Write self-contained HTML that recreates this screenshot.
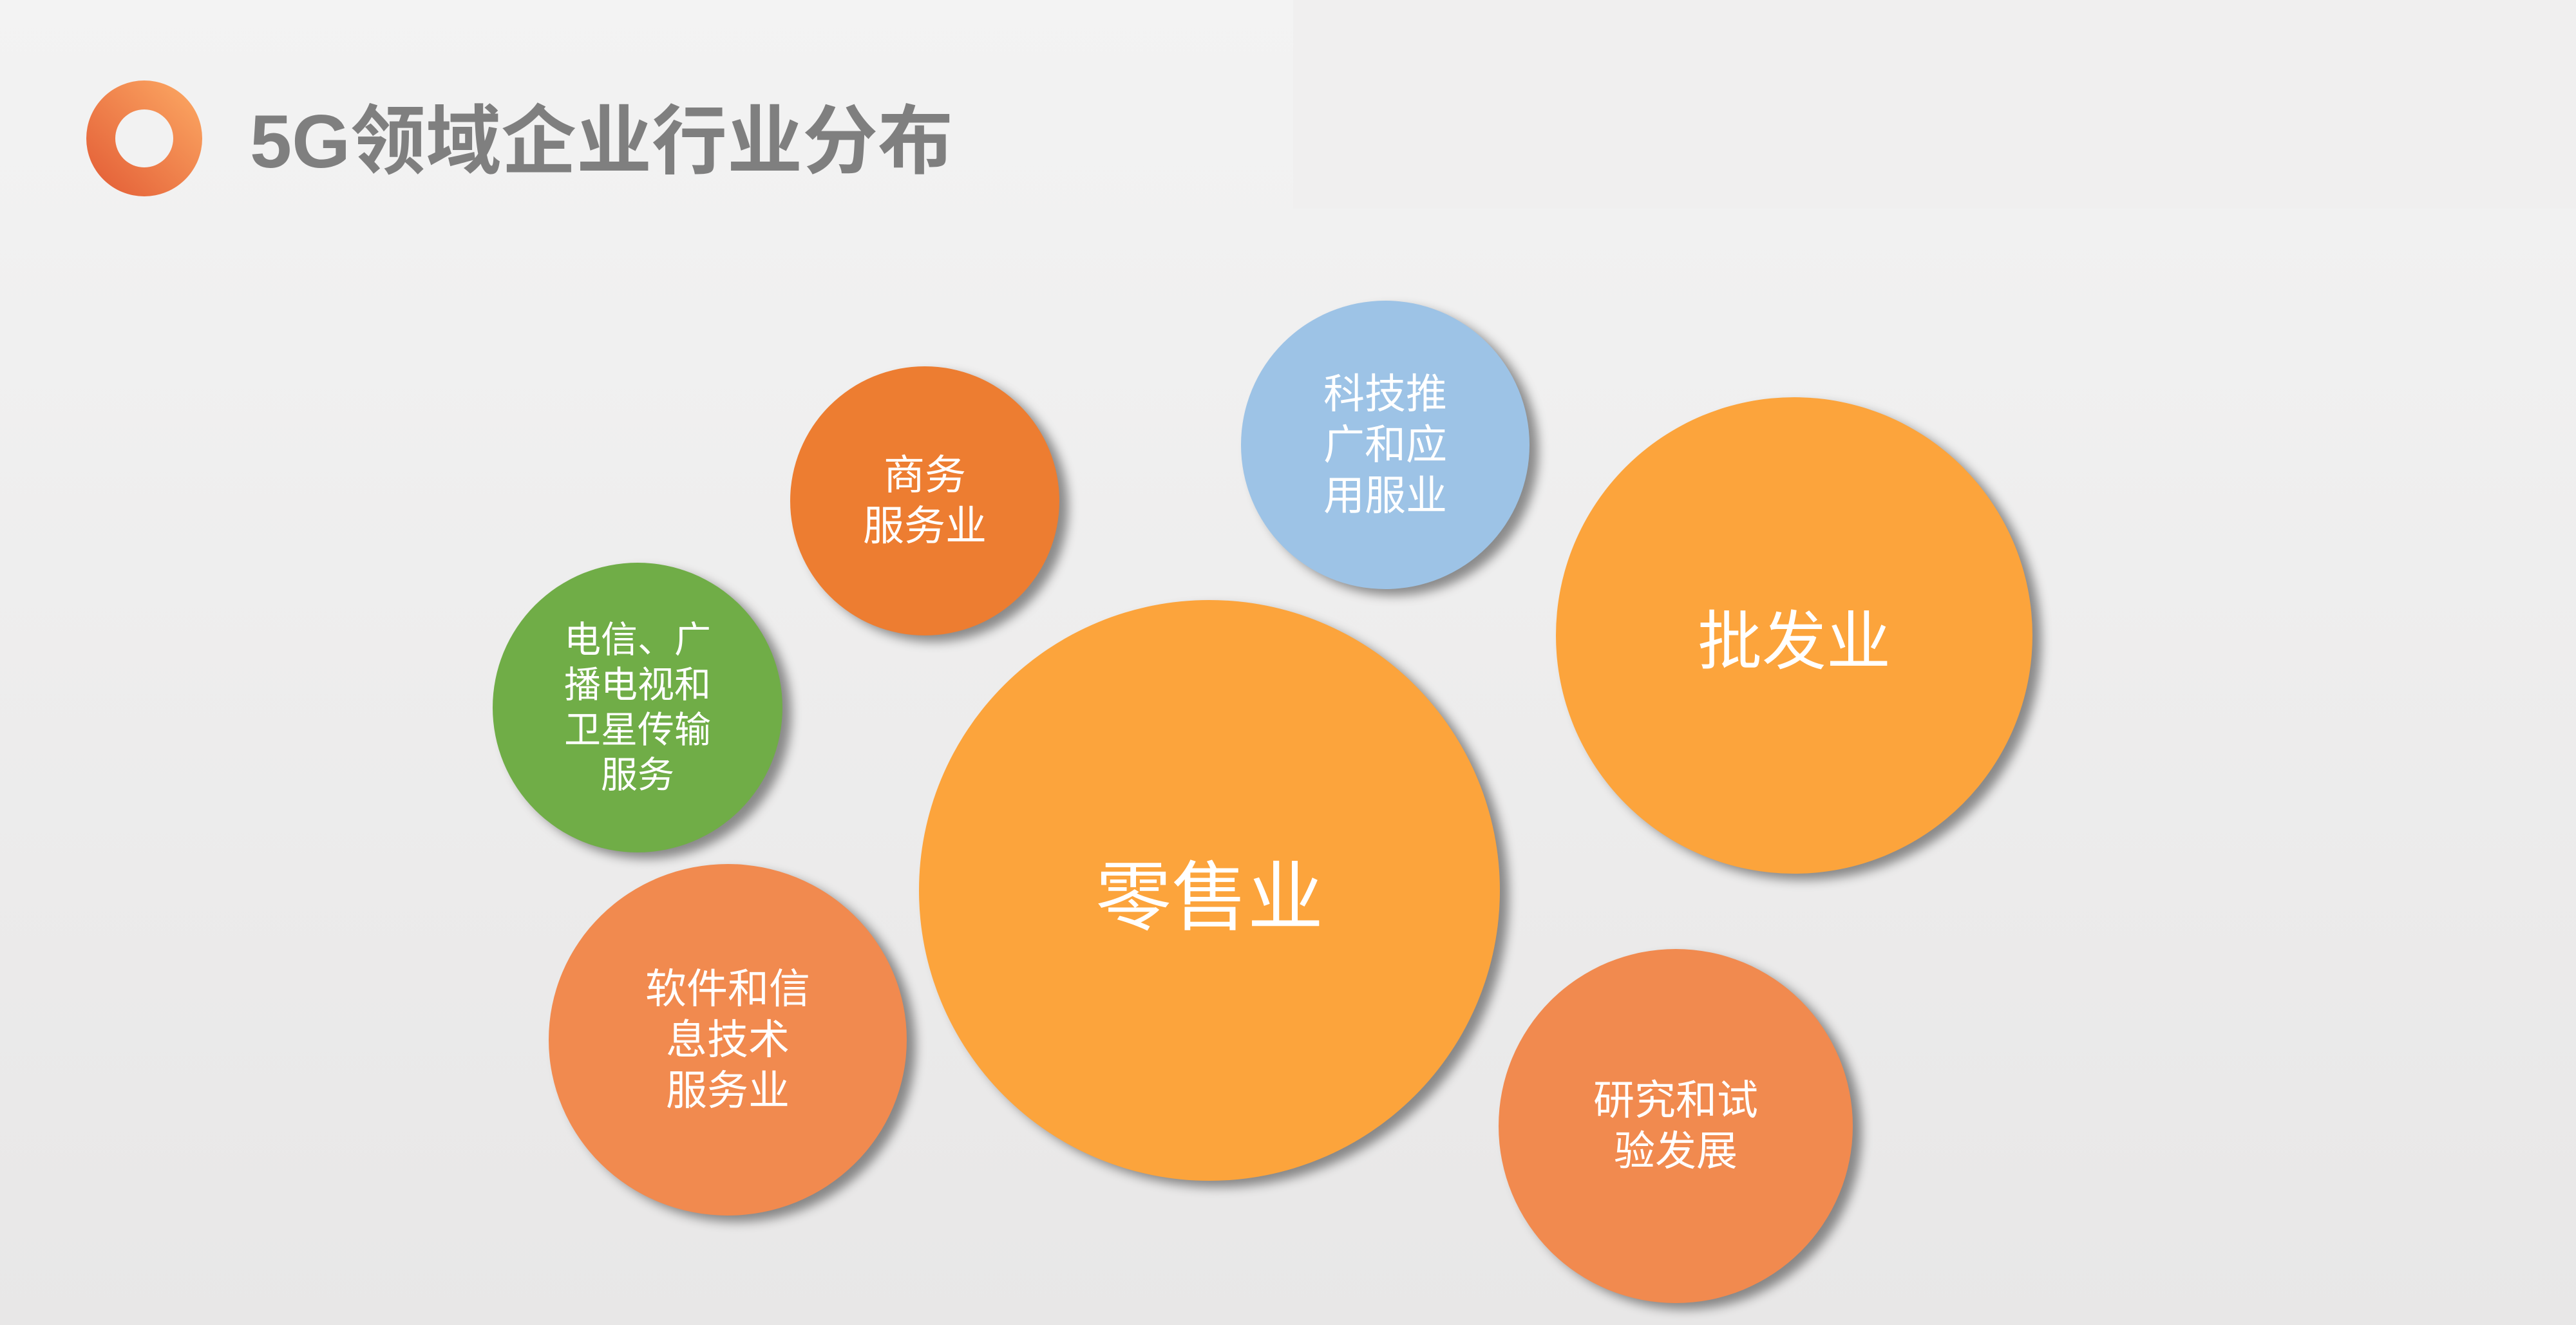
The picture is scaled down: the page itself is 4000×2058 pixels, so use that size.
<!DOCTYPE html>
<html><head><meta charset="utf-8"><style>
html,body{margin:0;padding:0}
body{width:4000px;height:2058px;position:relative;overflow:hidden;background:linear-gradient(#f3f3f3,#e8e7e7);font-family:"Liberation Sans","Noto Sans CJK SC",sans-serif}
.tr{position:absolute;left:2008px;top:0;width:1992px;height:324px;background:#f0efef}
.c{position:absolute;border-radius:50%;display:flex;align-items:center;justify-content:center;text-align:center;color:#fff;box-shadow:14px 10px 16px rgba(0,0,0,.42)}
.logo{position:absolute;left:134px;top:125px;width:180px;height:180px;border-radius:50%;background:linear-gradient(45deg,#e25a34,#fdab65)}
.logo:after{content:"";position:absolute;left:45px;top:45px;width:90px;height:90px;border-radius:50%;background:#f2f2f2}
.title{position:absolute;left:388px;top:150px;font-size:117px;font-weight:bold;color:#7f7f7f;line-height:140px;white-space:nowrap}
</style></head><body>
<div class="tr"></div>
<div class="logo"></div>
<div class="title">5G领域企业行业分布</div>

<div class="c" style="left:1227px;top:569px;width:418px;height:418px;background:#ed7d31;font-size:64px;line-height:79px">商务<br>服务业</div>
<div class="c" style="left:1927px;top:467px;width:448px;height:448px;background:#9dc3e6;font-size:64px;line-height:79px">科技推<br>广和应<br>用服业</div>
<div class="c" style="left:2416px;top:617px;width:740px;height:740px;background:#fca43c;font-size:100px">批发业</div>
<div class="c" style="left:765px;top:874px;width:450px;height:450px;background:#70ad47;font-size:57px;line-height:70px">电信、广<br>播电视和<br>卫星传输<br>服务</div>
<div class="c" style="left:1427px;top:932px;width:902px;height:902px;background:#fca43c;font-size:118px">零售业</div>
<div class="c" style="left:852px;top:1342px;width:556px;height:546px;background:#f18a4f;font-size:64px;line-height:79px">软件和信<br>息技术<br>服务业</div>
<div class="c" style="left:2327px;top:1474px;width:550px;height:550px;background:#f18a4f;font-size:64px;line-height:79px">研究和试<br>验发展</div>
</body></html>
